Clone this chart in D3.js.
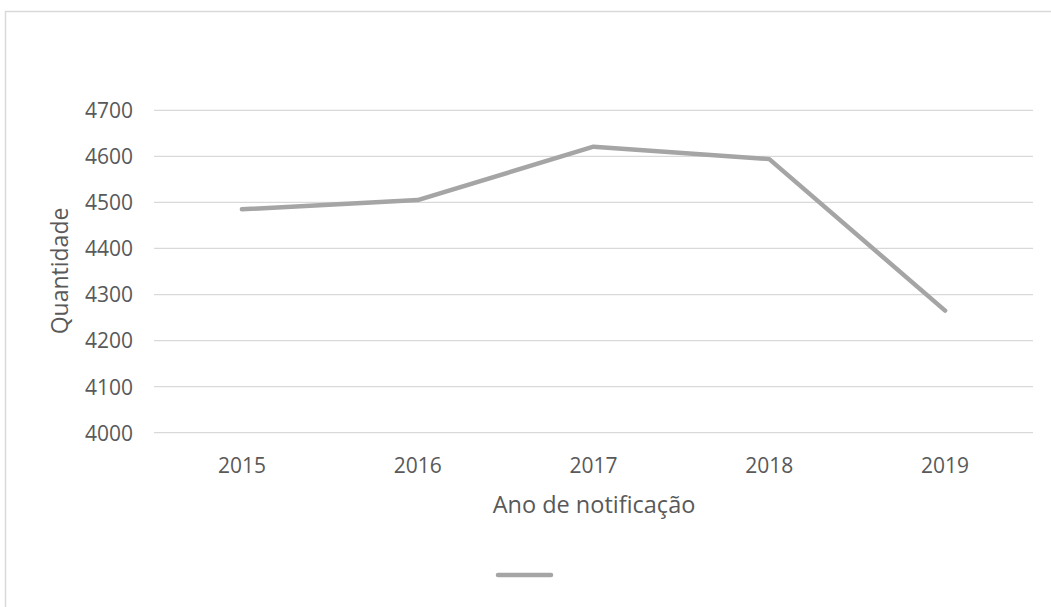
<!DOCTYPE html>
<html><head><meta charset="utf-8">
<script src="https://cdn.jsdelivr.net/npm/d3@7"></script>
<style>html,body{margin:0;padding:0;background:#fff;}svg{display:block;}</style>
</head><body>
<svg id="c" width="1051" height="607"></svg>
<script>
const categories = ["2015","2016","2017","2018","2019"];
const values = [4485, 4505, 4621, 4594, 4265];
const yTicks = [4000,4100,4200,4300,4400,4500,4600,4700];
const xTitle = "Ano de notificação";
const yTitle = "Quantidade";

const svg = d3.select("#c");
const font = "'Open Sans', 'Noto Sans', sans-serif";
const txt = "#595959";

svg.append("rect").attr("x",5.5).attr("y",11.5).attr("width",1100).attr("height",700)
  .attr("fill","#fff").attr("stroke","#d9d9d9").attr("stroke-width",1.5);

const x = d3.scaleBand().domain(categories).range([154,1033]);
const y = d3.scaleLinear().domain([4000,4700]).range([432.7,110.3]);

const grid = svg.append("g");
grid.selectAll("line").data(yTicks).join("line")
  .attr("x1",154).attr("x2",1033)
  .attr("y1",d=>y(d)).attr("y2",d=>y(d))
  .attr("stroke","#d9d9d9").attr("stroke-width",1.3);

const yAxis = svg.append("g").attr("transform","translate(133,0)")
  .call(d3.axisLeft(y).tickValues(yTicks).tickSize(0).tickPadding(0).tickFormat(d3.format("d")));
yAxis.select(".domain").remove();
yAxis.selectAll("text").attr("fill",txt).style("font-family",font).style("font-size","21px").attr("dy","0.35em");

const xAxis = svg.append("g").attr("transform","translate(0,466)")
  .call(d3.axisBottom(x).tickSize(0).tickPadding(0));
xAxis.select(".domain").remove();
xAxis.selectAll("text").attr("fill",txt).style("font-family",font).style("font-size","21px").attr("dy","0.35em");

svg.append("text").attr("x",594).attr("y",505).attr("dy","0.35em").attr("text-anchor","middle")
  .attr("fill",txt).style("font-family",font).style("font-size","23.5px").text(xTitle);
svg.append("text").attr("transform","translate(60,271) rotate(-90)").attr("dy","0.35em").attr("text-anchor","middle")
  .attr("fill",txt).style("font-family",font).style("font-size","23px").text(yTitle);

const line = d3.line().x((d,i)=>x(categories[i])+x.bandwidth()/2).y(d=>y(d));
svg.append("path").datum(values).attr("d",line).attr("fill","none")
  .attr("stroke","#a5a5a5").attr("stroke-width",4.5).attr("stroke-linecap","round").attr("stroke-linejoin","round");

svg.append("line").attr("x1",498).attr("x2",551).attr("y1",575).attr("y2",575)
  .attr("stroke","#a5a5a5").attr("stroke-width",4.5).attr("stroke-linecap","round");
</script>
</body></html>
